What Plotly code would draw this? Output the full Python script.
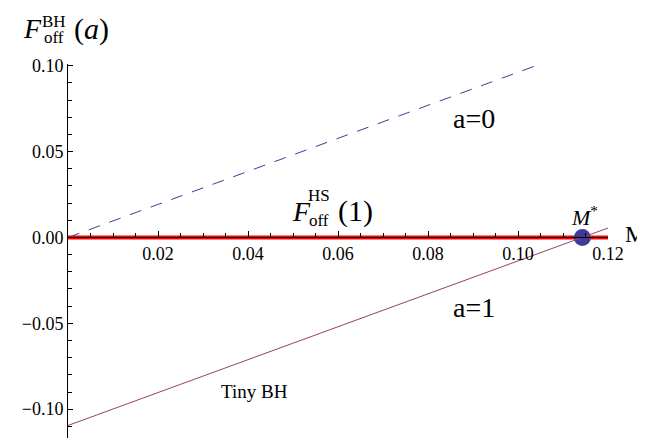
import plotly.graph_objects as go

# Free energy vs mass
m_a0 = [0.0, 0.105]
f_a0 = [0.0, 0.101]          # a=0 (dashed)
m_a1 = [0.0, 0.12]
f_a1 = [-0.1095, 0.0055]     # a=1 (Tiny BH)
m_hs = [0.0, 0.12]
f_hs = [0.0, 0.0]            # F_off^HS(1)
m_star = [0.1143]
f_star = [0.0]

x_ticks = [0.02, 0.04, 0.06, 0.08, 0.10, 0.12]
x_ticktext = ["0.02", "0.04", "0.06", "0.08", "0.10", "0.12"]
x_minor = [0.005 * i for i in range(1, 25) if i % 4]
y_ticks = [0.10, 0.05, 0.0, -0.05, -0.10]
y_ticktext = ["0.10", "0.05", "0.00", "\u22120.05", "\u22120.10"]
y_minor = [-0.11, -0.09, -0.08, -0.07, -0.06, -0.04, -0.03, -0.02, -0.01,
           0.01, 0.02, 0.03, 0.04, 0.06, 0.07, 0.08, 0.09]

W, H = 645, 438
ML, MR, MT, MB = 60, 45, 56, 3
Y_RANGE = [-0.1197, 0.101]
SERIF = "Liberation Serif"
BLUE = "#3d3d99"
PURPLE = "#993d71"


def px_x(p):
    return (p - ML) / (W - ML - MR)


def px_y(p):
    return (H - MB - p) / (H - MT - MB)


fig = go.Figure()
fig.add_trace(go.Scatter(x=m_a0, y=f_a0, mode="lines",
                         line=dict(color=BLUE, width=1, dash="12px,10px")))
fig.add_trace(go.Scatter(x=m_hs, y=f_hs, mode="lines",
                         line=dict(color="#ff0000", width=4)))
fig.add_trace(go.Scatter(x=m_star, y=f_star, mode="markers", cliponaxis=False,
                         marker=dict(color=BLUE, size=17)))
fig.add_trace(go.Scatter(x=m_a1, y=f_a1, mode="lines",
                         line=dict(color=PURPLE, width=1)))

fig.update_traces(showlegend=False, hoverinfo="skip")

x0_pos = (0 - Y_RANGE[0]) / (Y_RANGE[1] - Y_RANGE[0])

fig.update_xaxes(range=[0, 0.12], anchor="free", position=x0_pos, automargin=False,
                 showline=True, linecolor="black", linewidth=1,
                 ticks="inside", ticklen=6, tickcolor="black",
                 tickvals=x_ticks, ticktext=x_ticktext,
                 minor=dict(ticks="inside", ticklen=4, tickcolor="black", tickvals=x_minor),
                 showgrid=False, zeroline=False,
                 tickfont=dict(family=SERIF, size=18, color="black"))
fig.update_yaxes(range=Y_RANGE, automargin=False,
                 showline=True, linecolor="black", linewidth=1,
                 ticks="inside", ticklen=5, tickcolor="black",
                 tickvals=y_ticks, ticktext=y_ticktext,
                 minor=dict(ticks="inside", ticklen=4, tickcolor="black", tickvals=y_minor),
                 showgrid=False, zeroline=False,
                 tickfont=dict(family=SERIF, size=18, color="black"))


def label(text, x, y, size):
    fig.add_annotation(text=text, x=px_x(x), y=px_y(y), xref="paper", yref="paper",
                       showarrow=False, xanchor="center", yanchor="middle",
                       font=dict(family=SERIF, size=size, color="black"))


# y axis label F_off^BH(a)
label("<i>F</i>", 24, 21, 28)
label("BH", 46, 13, 17)
label("off", 46, 30, 17)
label("(<i>a</i>)", 83, 21, 30)

# F_off^HS(1)
label("<i>F</i>", 293, 203, 28)
label("HS", 311, 187, 17)
label("off", 311, 213, 17)
label("(1)", 347, 203, 30)

label("M", 627, 226, 24)
label("<i>M</i><sup>*</sup>", 576, 208, 22)
label("a=0", 466, 110, 28)
label("a=1", 466, 299, 28)
label("Tiny BH", 247, 383, 19)

fig.update_layout(width=W, height=H, margin=dict(l=ML, r=MR, t=MT, b=MB),
                  plot_bgcolor="white", paper_bgcolor="white")

fig.write_html("out.html")
